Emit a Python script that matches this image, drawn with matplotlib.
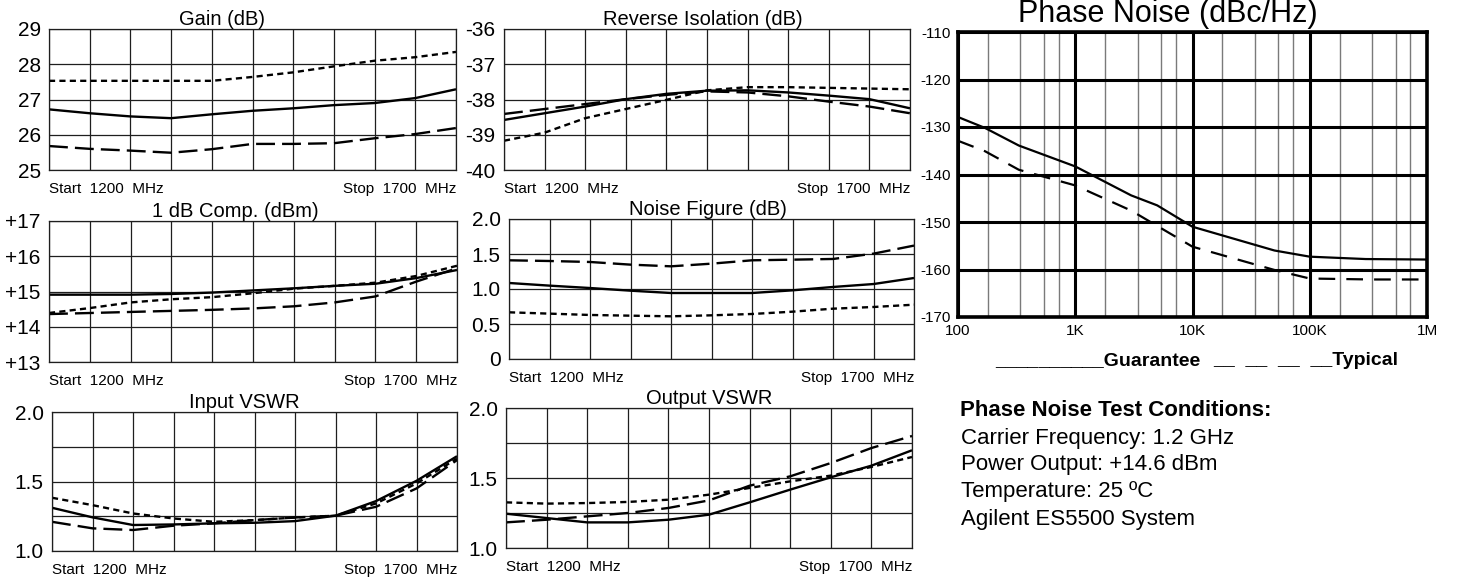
import matplotlib
matplotlib.use("Agg")
import matplotlib.pyplot as plt
import numpy as np

plt.rcParams['font.family'] = ['Liberation Sans', 'DejaVu Sans']

W, H = 1458, 581

# ---------------- data ----------------
FREQ_MHZ = [1200, 1250, 1300, 1350, 1400, 1450, 1500, 1550, 1600, 1650, 1700]

gain_solid = [26.72, 26.61, 26.52, 26.47, 26.58, 26.68, 26.75, 26.84, 26.90, 27.04, 27.29]
gain_short = [27.53, 27.53, 27.53, 27.53, 27.53, 27.64, 27.77, 27.94, 28.10, 28.20, 28.35]
gain_long = [25.68, 25.60, 25.55, 25.49, 25.59, 25.74, 25.74, 25.76, 25.90, 26.02, 26.19]

iso_solid = [-38.58, -38.39, -38.20, -37.99, -37.84, -37.75, -37.74, -37.80, -37.89, -37.99, -38.25]
iso_long = [-38.41, -38.27, -38.13, -37.99, -37.87, -37.77, -37.80, -37.91, -38.06, -38.20, -38.39]
iso_short = [-39.17, -38.94, -38.53, -38.27, -38.01, -37.74, -37.65, -37.65, -37.67, -37.69, -37.71]

p1db_solid = [14.91, 14.91, 14.91, 14.93, 14.97, 15.03, 15.09, 15.16, 15.22, 15.38, 15.61]
p1db_short = [14.39, 14.53, 14.69, 14.78, 14.84, 14.95, 15.08, 15.16, 15.25, 15.44, 15.73]
p1db_long = [14.36, 14.39, 14.42, 14.45, 14.48, 14.52, 14.58, 14.69, 14.86, 15.28, 15.66]

nf_solid = [1.086, 1.048, 1.014, 0.976, 0.943, 0.943, 0.943, 0.981, 1.029, 1.071, 1.157]
nf_long = [1.41, 1.40, 1.386, 1.348, 1.324, 1.362, 1.41, 1.419, 1.429, 1.505, 1.62]
nf_short = [0.667, 0.648, 0.629, 0.619, 0.61, 0.624, 0.643, 0.676, 0.719, 0.743, 0.776]

ivswr_solid = [1.311, 1.242, 1.187, 1.191, 1.199, 1.203, 1.215, 1.254, 1.359, 1.505, 1.682]
ivswr_short = [1.383, 1.33, 1.27, 1.234, 1.21, 1.222, 1.241, 1.254, 1.342, 1.486, 1.665]
ivswr_long = [1.21, 1.163, 1.151, 1.182, 1.199, 1.222, 1.241, 1.254, 1.318, 1.45, 1.654]

ovswr_solid = [1.245, 1.214, 1.183, 1.183, 1.202, 1.238, 1.326, 1.417, 1.505, 1.588, 1.698]
ovswr_short = [1.326, 1.317, 1.321, 1.329, 1.345, 1.381, 1.429, 1.476, 1.517, 1.579, 1.65]
ovswr_long = [1.183, 1.202, 1.226, 1.25, 1.286, 1.340, 1.445, 1.512, 1.607, 1.714, 1.80]

PN_FREQ_HZ = [100, 170, 330, 1000, 3000, 5000, 10000, 50000, 100000, 300000, 1000000]
pn_guarantee = [-127.9, -130.2, -133.9, -138.3, -144.4, -146.5, -151.0, -156.0, -157.3, -157.8, -157.9]
PN_TYP_FREQ_HZ = [100, 170, 330, 1000, 3000, 10000, 50000, 100000, 340000, 870000]
pn_typical = [-132.9, -135.1, -139.0, -142.3, -147.6, -155.2, -160.1, -161.9, -162.1, -162.1]

PN_XTICKS = [100, 1000, 10000, 100000, 1000000]
PN_XLABELS = ['100', '1K', '10K', '100K', '1M']
PN_YTICKS = [-170, -160, -150, -140, -130, -120, -110]

# ---------------- figure ----------------
fig = plt.figure(figsize=(W / 100, H / 100), dpi=100)


def rect(x0, y0, x1, y1):
    return [x0 / W, 1 - y1 / H, (x1 - x0) / W, (y1 - y0) / H]


LONG = (0, (8, 3))
SHORT = (0, (2.6, 1.8))


def panel(box, title, tx, ylim, yticks, ylabels, series):
    ax = fig.add_axes(rect(*box))
    for vals, ls in series:
        ax.plot(FREQ_MHZ, vals, color='black', lw=1.7, linestyle=ls,
                solid_capstyle='butt', dash_capstyle='butt')
    ax.set_xlim(FREQ_MHZ[0], FREQ_MHZ[-1])
    ax.set_ylim(*ylim)
    ax.set_xticks(FREQ_MHZ)
    ax.set_yticks(yticks)
    ax.set_yticklabels(ylabels, fontsize=15)
    ax.tick_params(axis='both', length=0)
    ax.tick_params(axis='y', pad=6)
    ax.tick_params(axis='x', labelbottom=False)
    ax.grid(True, color='#1e1e1e', lw=0.9)
    ax.set_axisbelow(True)
    for s in ax.spines.values():
        s.set_linewidth(0.9)
        s.set_color('#1e1e1e')
    ax.text(tx, 1.0, title, transform=ax.transAxes, ha='center', va='bottom',
            fontsize=14.5)
    ax.text(0.0, -0.085, 'Start  1200  MHz', transform=ax.transAxes, ha='left',
            va='top', fontsize=11)
    ax.text(1.0, -0.085, 'Stop  1700  MHz', transform=ax.transAxes, ha='right',
            va='top', fontsize=11)
    return ax


panel((49, 29, 456, 170), 'Gain (dB)', 0.425, (25, 29), [25, 26, 27, 28, 29],
      ['25', '26', '27', '28', '29'],
      [(gain_solid, '-'), (gain_short, SHORT), (gain_long, LONG)])
panel((504, 29, 910, 170), 'Reverse Isolation (dB)', 0.49, (-40, -36),
      [-40, -39, -38, -37, -36], ['-40', '-39', '-38', '-37', '-36'],
      [(iso_solid, '-'), (iso_short, SHORT), (iso_long, LONG)])
panel((49, 221, 457, 362), '1 dB Comp. (dBm)', 0.456, (13, 17),
      [13, 14, 15, 16, 17], ['+13', '+14', '+15', '+16', '+17'],
      [(p1db_solid, '-'), (p1db_short, SHORT), (p1db_long, LONG)])
panel((509, 219, 914, 359), 'Noise Figure (dB)', 0.49, (0, 2.0),
      [0, 0.5, 1.0, 1.5, 2.0], ['0', '0.5', '1.0', '1.5', '2.0'],
      [(nf_solid, '-'), (nf_short, SHORT), (nf_long, LONG)])
panel((52, 412, 457, 551), 'Input VSWR', 0.474, (1.0, 2.0),
      [1.0, 1.25, 1.5, 1.75, 2.0], ['1.0', '', '1.5', '', '2.0'],
      [(ivswr_solid, '-'), (ivswr_short, SHORT), (ivswr_long, LONG)])
panel((506, 408, 912, 548), 'Output VSWR', 0.5, (1.0, 2.0),
      [1.0, 1.25, 1.5, 1.75, 2.0], ['1.0', '', '1.5', '', '2.0'],
      [(ovswr_solid, '-'), (ovswr_short, SHORT), (ovswr_long, LONG)])

# ---------------- phase noise ----------------
ax = fig.add_axes(rect(958, 32, 1427, 317))
ax.semilogx(PN_FREQ_HZ, pn_guarantee, color='black', lw=1.6)
ax.semilogx(PN_TYP_FREQ_HZ, pn_typical, color='black', lw=1.6,
            linestyle=(0, (7.5, 5)), dash_capstyle='butt')
ax.set_xlim(100, 1e6)
ax.set_ylim(-170, -110)
ax.set_xticks(PN_XTICKS)
ax.set_xticklabels(PN_XLABELS, fontsize=11)
minors = [m * d for d in [100, 1000, 10000, 100000] for m in (1.8, 3.4, 5.4, 7.2)]
ax.set_xticks(minors, minor=True)
ax.set_xticklabels([], minor=True)
ax.set_yticks(PN_YTICKS)
ax.set_yticklabels([str(v) for v in PN_YTICKS], fontsize=11)
ax.tick_params(axis='both', which='both', length=0)
ax.tick_params(axis='y', pad=5)
ax.tick_params(axis='x', pad=5)
ax.grid(True, which='major', axis='both', color='black', lw=2.2)
ax.grid(True, which='minor', axis='x', color='#7a7a7a', lw=1.0)
ax.set_axisbelow(True)
for s in ax.spines.values():
    s.set_linewidth(2.6)
ax.text((1168 - 958) / (1427 - 958), 1.0 + 10 / 285, 'Phase Noise (dBc/Hz)',
        transform=ax.transAxes, ha='center', va='baseline', fontsize=22)

fig.text(1200 / W, 1 - 365 / H, '__________Guarantee', ha='right', va='baseline',
         fontsize=14, fontweight='bold')
fig.text(1398 / W, 1 - 365 / H, '__  __  __  __Typical', ha='right',
         va='baseline', fontsize=14, fontweight='bold')

fig.text(960 / W, 1 - 416 / H, 'Phase Noise Test Conditions:', ha='left',
         va='baseline', fontsize=16, fontweight='bold')
cond_lines = ['Carrier Frequency: 1.2 GHz', 'Power Output: +14.6 dBm',
              'Temperature: 25 \u00baC', 'Agilent ES5500 System']
cond_base = [444, 470, 497, 525]
for line, yb in zip(cond_lines, cond_base):
    fig.text(961 / W, 1 - yb / H, line, ha='left', va='baseline', fontsize=16)

fig.savefig('out.png', dpi=100)
